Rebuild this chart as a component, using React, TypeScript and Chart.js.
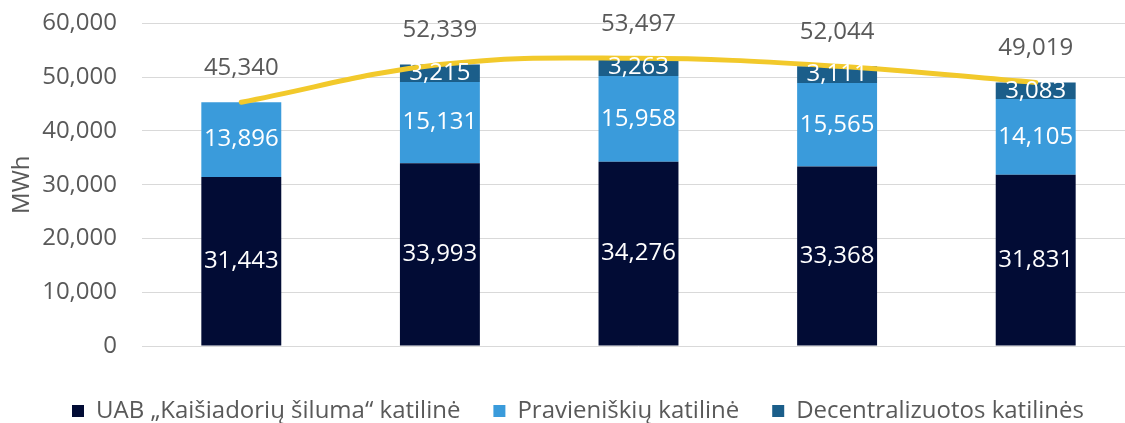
import React, { useEffect, useRef } from "react";
import { Chart, registerables } from "chart.js";

Chart.register(...registerables);

const years = ["2015", "2016", "2017", "2018", "2019"];
const seriesNames = [
  "UAB „Kaišiadorių šiluma“ katilinė",
  "Pravieniškių katilinė",
  "Decentralizuotos katilinės",
];
const uabValues = [31443, 33993, 34276, 33368, 31831];
const pravValues = [13896, 15131, 15958, 15565, 14105];
const decValues: (number | null)[] = [null, 3215, 3263, 3111, 3083];
const totalValues = [45340, 52339, 53497, 52044, 49019];
const yAxisTitle = "MWh";
const yMin = 0;
const yMax = 60000;
const yStep = 10000;

const FONT = "'Open Sans', 'Noto Sans', sans-serif";
const FONT_SIZE = 24;
const GRAY = "#595959";

const fmt = (v: number) => v.toLocaleString("en-US");

const labelPlugin = {
  id: "valueLabels",
  afterDatasetsDraw(chart: any) {
    const ctx = chart.ctx;
    ctx.save();
    ctx.font = `${FONT_SIZE}px ${FONT}`;
    ctx.textAlign = "center";
    ctx.textBaseline = "middle";
    chart.data.datasets.forEach((ds: any, di: number) => {
      const meta = chart.getDatasetMeta(di);
      if (meta.hidden) return;
      meta.data.forEach((el: any, i: number) => {
        const v = ds.data[i];
        if (v === null || v === undefined) return;
        if (ds.type === "line") {
          ctx.fillStyle = GRAY;
          ctx.fillText(fmt(v), el.x, el.y - 34);
        } else {
          ctx.fillStyle = "#ffffff";
          ctx.fillText(fmt(v), el.x, (el.y + el.base) / 2);
        }
      });
    });
    ctx.restore();
  },
};

export default function App() {
  const canvasRef = useRef<HTMLCanvasElement | null>(null);

  useEffect(() => {
    if (!canvasRef.current) return;
    const chart = new Chart(canvasRef.current, {
      type: "bar",
      data: {
        labels: years,
        datasets: [
          {
            type: "line" as const,
            label: "Total",
            data: totalValues,
            borderColor: "#F2C92B",
            backgroundColor: "#F2C92B",
            borderWidth: 5,
            borderCapStyle: "round",
            pointRadius: 0,
            tension: 0.4,
            order: 0,
          } as any,
          {
            label: seriesNames[0],
            data: uabValues,
            backgroundColor: "#020C35",
            order: 1,
          },
          {
            label: seriesNames[1],
            data: pravValues,
            backgroundColor: "#3A9BDB",
            order: 1,
          },
          {
            label: seriesNames[2],
            data: decValues,
            backgroundColor: "#1B5E8A",
            order: 1,
          },
        ],
      },
      options: {
        responsive: false,
        animation: false,
        devicePixelRatio: 1,
        datasets: {
          bar: { categoryPercentage: 1, barPercentage: 0.4025 },
        } as any,
        layout: { padding: { left: 21, right: 5, top: 0, bottom: 0 } },
        plugins: {
          tooltip: { enabled: false },
          legend: {
            position: "bottom",
            maxHeight: 57,
            labels: {
              filter: (item: any) => item.text !== "Total",
              boxWidth: 12,
              boxHeight: 12,
              padding: 33,
              color: GRAY,
              font: { family: FONT, size: FONT_SIZE },
            },
          } as any,
        },
        scales: {
          x: {
            stacked: true,
            grid: { display: false, drawTicks: false },
            border: { display: false },
            ticks: {
              color: GRAY,
              font: { family: FONT, size: FONT_SIZE },
              padding: 21,
            },
            afterFit: (scale: any) => {
              scale.height = 20;
            },
          },
          y: {
            stacked: true,
            min: yMin,
            max: yMax,
            grid: {
              color: "#D9D9D9",
              lineWidth: 1,
              drawTicks: true,
              tickLength: 16,
              tickColor: "rgba(0,0,0,0)",
            },
            border: { display: false },
            ticks: {
              stepSize: yStep,
              color: GRAY,
              padding: 9,
              font: { family: FONT, size: FONT_SIZE },
              callback: (v: any) => fmt(Number(v)),
            },
            title: {
              display: true,
              text: yAxisTitle,
              color: GRAY,
              font: { family: FONT, size: FONT_SIZE },
              padding: { top: -13.4, bottom: 0 },
            },
            afterFit: (scale: any) => {
              scale.width = 121;
            },
          },
        },
      },
      plugins: [labelPlugin],
    });
    return () => chart.destroy();
  }, []);

  return (
    <div
      style={{
        position: "fixed",
        left: 0,
        top: 0,
        width: 1125,
        height: 423,
        overflow: "hidden",
        background: "#ffffff",
      }}
    >
      <canvas ref={canvasRef} width={1140} height={423} style={{ display: "block" }} />
    </div>
  );
}
